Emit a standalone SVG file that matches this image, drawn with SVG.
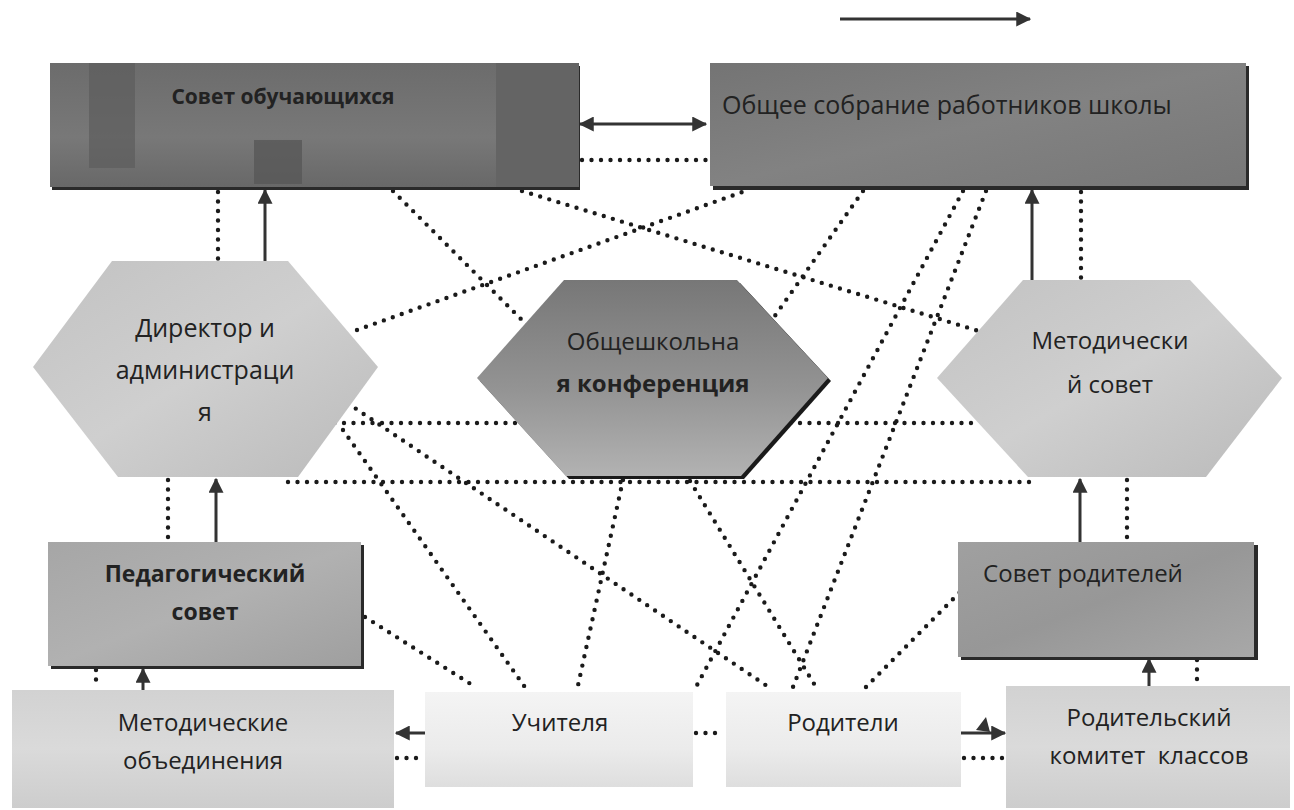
<svg xmlns="http://www.w3.org/2000/svg" width="1294" height="810" viewBox="0 0 1294 810">
<defs>
<style>
.dot{fill:none;stroke:#1a1a1a;stroke-width:4.4;stroke-dasharray:0 9.5;stroke-linecap:round}
.sol{fill:none;stroke:#333;stroke-width:3}
.t{font-family:"Open Sans","Noto Sans","DejaVu Sans",sans-serif;font-size:24px;fill:#222;text-anchor:middle}
.b{font-weight:bold}
.shadow{fill:#2a2a2a}
</style>
<marker id="ah" viewBox="0 0 12 12" refX="11" refY="6" markerWidth="5" markerHeight="5" markerUnits="strokeWidth" orient="auto-start-reverse">
<path d="M0,0 L12,6 L0,12 Z" fill="#333"/>
</marker>
<linearGradient id="gDark" x1="0" y1="0" x2="0" y2="1">
<stop offset="0" stop-color="#6c6c6c"/><stop offset="0.6" stop-color="#787878"/><stop offset="1" stop-color="#686868"/>
</linearGradient>
<linearGradient id="gBox2" x1="0" y1="0" x2="1" y2="1">
<stop offset="0" stop-color="#747474"/><stop offset="0.5" stop-color="#828282"/><stop offset="1" stop-color="#777"/>
</linearGradient>
<linearGradient id="gConf" x1="0" y1="0" x2="0" y2="1">
<stop offset="0" stop-color="#777"/><stop offset="0.55" stop-color="#939393"/><stop offset="1" stop-color="#b2b2b2"/>
</linearGradient>
<linearGradient id="gHexL" x1="0" y1="0" x2="1" y2="1">
<stop offset="0" stop-color="#c2c2c2"/><stop offset="0.5" stop-color="#cfcfcf"/><stop offset="1" stop-color="#bababa"/>
</linearGradient>
<linearGradient id="gMid" x1="0" y1="0" x2="1" y2="1">
<stop offset="0" stop-color="#a6a6a6"/><stop offset="0.5" stop-color="#b1b1b1"/><stop offset="1" stop-color="#9f9f9f"/>
</linearGradient>
<linearGradient id="gPar" x1="0" y1="0" x2="1" y2="1">
<stop offset="0" stop-color="#a0a0a0"/><stop offset="0.5" stop-color="#979797"/><stop offset="1" stop-color="#a8a8a8"/>
</linearGradient>
<linearGradient id="gLight" x1="0" y1="0" x2="0" y2="1">
<stop offset="0" stop-color="#d2d2d2"/><stop offset="0.5" stop-color="#dadada"/><stop offset="1" stop-color="#cdcdcd"/>
</linearGradient>
<linearGradient id="gWhite" x1="0" y1="0" x2="0" y2="1">
<stop offset="0" stop-color="#f4f4f4"/><stop offset="0.6" stop-color="#ebebeb"/><stop offset="1" stop-color="#dedede"/>
</linearGradient>
</defs>
<rect width="1294" height="810" fill="#fff"/>

<g id="connectors">
<line class="dot" x1="582" y1="160" x2="706" y2="160"/>
<line class="dot" x1="218" y1="192" x2="218" y2="259"/>
<line class="dot" x1="168" y1="480" x2="168" y2="540"/>
<line class="dot" x1="96" y1="670" x2="96" y2="688"/>
<line class="dot" x1="397" y1="758" x2="424" y2="758"/>
<line class="dot" x1="696" y1="733" x2="724" y2="733"/>
<line class="dot" x1="964" y1="758" x2="1004" y2="758"/>
<line class="dot" x1="1197" y1="660" x2="1197" y2="684"/>
<line class="dot" x1="1127" y1="480" x2="1127" y2="540"/>
<line class="dot" x1="1081" y1="192" x2="1081" y2="278"/>
<line class="dot" x1="393" y1="191" x2="529" y2="327"/>
<line class="dot" x1="522" y1="191" x2="982" y2="332"/>
<line class="dot" x1="357" y1="330" x2="745" y2="191"/>
<line class="dot" x1="863" y1="191" x2="767" y2="327"/>
<line class="dot" x1="963" y1="191" x2="696" y2="687"/>
<line class="dot" x1="986" y1="191" x2="793" y2="687"/>
<line class="dot" x1="325" y1="423" x2="980" y2="423"/>
<line class="dot" x1="288" y1="482" x2="1032" y2="482"/>
<line class="dot" x1="340" y1="398" x2="770" y2="688"/>
<line class="dot" x1="343" y1="430" x2="527" y2="690"/>
<line class="dot" x1="365" y1="617" x2="477" y2="688"/>
<line class="dot" x1="623" y1="480" x2="577" y2="690"/>
<line class="dot" x1="690" y1="481" x2="816" y2="687"/>
<line class="dot" x1="866" y1="687" x2="962" y2="590"/>
<line class="sol" x1="840" y1="19" x2="1030" y2="19" marker-end="url(#ah)"/>
<line class="sol" x1="580" y1="124" x2="706" y2="124" marker-start="url(#ah)" marker-end="url(#ah)"/>
<line class="sol" x1="265" y1="261" x2="265" y2="190" marker-end="url(#ah)"/>
<line class="sol" x1="216" y1="542" x2="216" y2="479" marker-end="url(#ah)"/>
<line class="sol" x1="143" y1="690" x2="143" y2="669" marker-end="url(#ah)"/>
<line class="sol" x1="433" y1="733" x2="396" y2="733" marker-end="url(#ah)"/>
<line class="sol" x1="960" y1="733" x2="1005" y2="733" marker-end="url(#ah)"/>
<path d="M976,730 L986,717 L990,732 Z" fill="#333"/>
<line class="sol" x1="1032" y1="280" x2="1032" y2="190" marker-end="url(#ah)"/>
<line class="sol" x1="1080" y1="542" x2="1080" y2="479" marker-end="url(#ah)"/>
<line class="sol" x1="1149" y1="686" x2="1149" y2="659" marker-end="url(#ah)"/>
</g>

<g id="n-sovet-obuch">
<rect x="52" y="66" width="528" height="124" class="shadow"/>
<rect x="50" y="63" width="529" height="124" fill="url(#gDark)"/>
<rect x="89" y="63" width="46" height="105" fill="#5c5c5c" opacity="0.7"/>
<rect x="496" y="63" width="83" height="124" fill="#646464"/>
<rect x="254" y="140" width="48" height="44" fill="#585858" opacity="0.8"/>
<text class="t b" x="283" y="104" style="font-size:21px" fill="#202020">Совет обучающихся</text>
</g>

<g id="n-obshee-sobranie">
<rect x="713" y="66" width="536" height="124" class="shadow"/>
<rect x="710" y="63" width="536" height="123" fill="url(#gBox2)"/>
<text class="t" x="722" y="114" style="text-anchor:start;font-size:25px" fill="#262626">Общее собрание работников школы</text>
</g>

<g id="n-director">
<polygon points="33,367 112,261 288,261 378,367 298,477 118,477" fill="url(#gHexL)"/>
<text class="t" x="205" y="337" style="font-size:25px">Директор и</text>
<text class="t" x="205" y="379" style="font-size:25px">администраци</text>
<text class="t" x="205" y="421" style="font-size:25px">я</text>
</g>

<g id="n-konferenciya">
<polygon points="480,381 567,283 740,283 831,381 744,479 569,479" fill="#1a1a1a"/>
<polygon points="477,378 564,280 737,280 828,378 741,476 566,476" fill="url(#gConf)"/>
<text class="t" x="653" y="350" fill="#2e2e2e">Общешкольна</text>
<text class="t b" x="653" y="392" fill="#222">я конференция</text>
</g>

<g id="n-metod-sovet">
<polygon points="937,378 1023,280 1190,280 1282,378 1206,477 1028,477" fill="url(#gHexL)"/>
<text class="t" x="1110" y="349">Методически</text>
<text class="t" x="1110" y="393">й совет</text>
</g>

<g id="n-ped-sovet">
<rect x="51" y="545" width="313" height="124" class="shadow"/>
<rect x="48" y="542" width="313" height="124" fill="url(#gMid)"/>
<text class="t b" x="205" y="582" style="font-size:23px" fill="#262626">Педагогический</text>
<text class="t b" x="205" y="620" style="font-size:23px" fill="#262626">совет</text>
</g>

<g id="n-metod-obed">
<rect x="12" y="690" width="382" height="118" fill="url(#gLight)"/>
<text class="t" x="203" y="731">Методические</text>
<text class="t" x="203" y="769">объединения</text>
</g>

<g id="n-uchitelya">
<rect x="425" y="692" width="268" height="95" fill="url(#gWhite)"/>
<text class="t" x="560" y="731">Учителя</text>
</g>

<g id="n-roditeli">
<rect x="726" y="692" width="235" height="95" fill="url(#gWhite)"/>
<text class="t" x="843" y="731">Родители</text>
</g>

<g id="n-sovet-roditeley">
<rect x="961" y="545" width="297" height="115" class="shadow"/>
<rect x="958" y="542" width="296" height="115" fill="url(#gPar)"/>
<text class="t" x="1083" y="582">Совет родителей</text>
</g>

<g id="n-rod-komitet">
<rect x="1006" y="686" width="284" height="122" fill="url(#gLight)"/>
<text class="t" x="1149" y="726">Родительский</text>
<text class="t" x="1149" y="764" xml:space="preserve">комитет  классов</text>
</g>
</svg>
